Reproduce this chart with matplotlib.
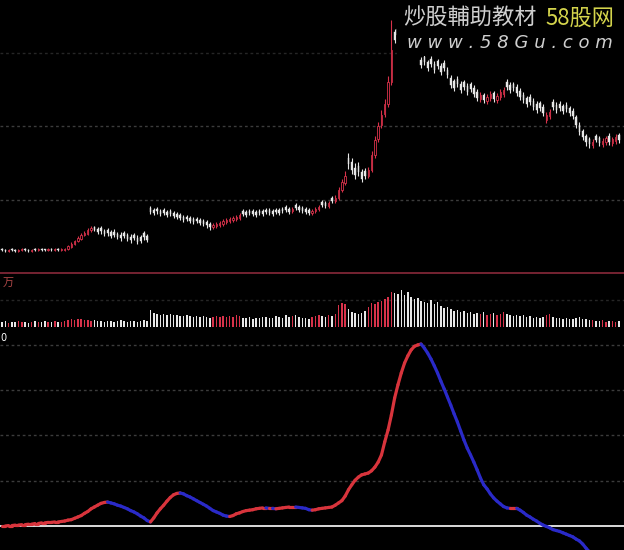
import numpy as np
import matplotlib
matplotlib.use("Agg")
import matplotlib.pyplot as plt
from matplotlib.patches import Rectangle

plt.rcParams['font.family'] = ['Noto Sans CJK SC', 'DejaVu Sans']

# price data (one entry per trading day)
opens = [
    5.1, 5.0, 4.9, 5.1, 5.0, 4.9, 5.0, 5.1, 5.0, 4.9, 5.1, 5.0, 5.1, 5.0, 5.0, 5.1, 5.0, 5.1, 5.0, 5.0,
    5.1, 5.3, 5.6, 5.9, 6.1,
    6.5, 6.6, 7.0, 7.3,
    7.1, 7.2, 6.9, 7.0, 6.8, 6.8, 6.6, 6.5, 6.7, 6.5, 6.3, 6.5, 6.2, 6.3, 6.7,
    6.4,
    9.2,
    9.0, 9.1, 8.9, 9.0, 8.8, 8.9, 8.7,
    8.6, 8.5, 8.3, 8.3, 8.2, 8.1, 8.1, 8.0, 7.9, 7.8, 7.6,
    7.3, 7.4, 7.5, 7.6, 7.8, 7.9, 8.0, 8.1, 8.2,
    8.9, 8.8, 8.9, 8.9, 8.8, 8.9, 8.9, 9.0, 9.0, 8.9, 9.0, 9.0, 9.1, 9.3, 9.1, 8.9, 9.5, 9.3,
    9.2, 9.1, 9.0, 8.7, 8.9,
    9.1, 9.8, 9.7, 9.4, 10.2, 9.9,
    10.2, 11.0, 11.7,
    14.2, 13.8, 13.2, 13.4,
    12.8, 12.9, 12.4,
    13.0, 14.5, 16.1, 17.5,
    18.6, 19.6, 21.8,
    26.8, 27.1, 26.4, 26.0, 26.4, 25.8, 26.0, 25.6,
    24.0, 24.3, 23.8, 24.1, 23.6, 23.9, 23.4, 23.7, 23.0,
    22.2, 21.9, 22.1, 21.6, 21.8, 21.4, 21.6, 21.2,
    20.8, 20.1, 20.5, 19.9, 20.2, 20.7, 20.0, 20.3, 20.6,
    21.8, 21.5, 21.6, 21.3,
    20.9, 20.5, 20.2, 20.3, 19.9, 19.6, 19.7, 19.3,
    18.0, 18.4,
    19.8, 19.5, 19.6, 19.4, 19.5, 19.2, 18.9,
    18.3, 17.5, 16.9, 16.4, 16.1,
    15.5, 16.4, 16.2, 15.6, 15.8, 16.4, 15.7, 15.9, 16.5,
]
closes = [
    5.0, 4.9, 5.0, 5.0, 4.9, 5.0, 5.1, 5.0, 4.9, 5.0, 5.0, 5.1, 5.0, 5.0, 5.1, 5.0, 5.1, 5.0, 5.1, 5.1,
    5.4, 5.6, 5.9, 6.2, 6.5,
    6.7, 7.0, 7.2, 7.0,
    6.8, 6.9, 6.6, 6.7, 6.4, 6.5, 6.3, 6.2, 6.4, 6.1, 6.0, 6.2, 5.8, 5.9, 6.3,
    6.0,
    8.8,
    8.7, 8.9, 8.6, 8.7, 8.5, 8.6, 8.4,
    8.3, 8.2, 8.0, 8.1, 7.9, 7.8, 7.9, 7.7, 7.6, 7.5, 7.3,
    7.5, 7.6, 7.7, 7.9, 8.0, 8.1, 8.2, 8.3, 8.5,
    8.6, 8.5, 8.7, 8.6, 8.5, 8.7, 8.6, 8.8, 8.7, 8.6, 8.8, 8.7, 8.9, 9.0, 8.8, 9.1, 9.2, 9.0,
    8.9, 8.8, 8.7, 8.9, 9.1,
    9.3, 9.5, 9.4, 9.7, 9.9, 10.2,
    11.0, 11.8, 12.4,
    13.6, 13.0, 12.5, 12.8,
    12.1, 12.4, 13.0,
    14.5, 16.0, 17.4, 18.5,
    19.6, 21.8, 25.0,
    26.0, 26.5, 25.8, 25.4, 25.9, 25.2, 25.5, 25.0,
    23.5, 23.8, 23.2, 23.6, 23.0, 23.4, 22.8, 23.2, 22.5,
    21.5, 21.2, 21.6, 21.0, 21.3, 20.8, 21.1, 20.6,
    20.2, 20.5, 20.0, 20.3, 20.6, 20.1, 20.4, 20.8, 21.0,
    21.3, 21.0, 21.2, 20.7,
    20.3, 20.0, 19.6, 19.8, 19.3, 19.0, 19.2, 18.7,
    18.5, 18.8,
    19.3, 19.0, 19.2, 18.9, 19.1, 18.7, 18.4,
    17.5, 16.8, 16.3, 15.8, 15.6,
    15.8, 16.0, 15.7, 15.9, 16.2, 15.8, 16.1, 16.3, 16.0,
]
highs = [
    5.2, 5.1, 5.1, 5.2, 5.1, 5.1, 5.2, 5.2, 5.1, 5.1, 5.2, 5.2, 5.2, 5.1, 5.2, 5.2, 5.2, 5.2, 5.2, 5.2,
    5.5, 5.8, 6.0, 6.4, 6.7,
    6.9, 7.2, 7.4, 7.4,
    7.3, 7.4, 7.1, 7.2, 7.0, 7.1, 6.8, 6.8, 6.9, 6.7, 6.6, 6.7, 6.5, 6.5, 6.9,
    6.6,
    9.4,
    9.2, 9.3, 9.1, 9.2, 9.0, 9.1, 8.9,
    8.8, 8.7, 8.5, 8.5, 8.4, 8.3, 8.3, 8.2, 8.1, 8.0, 7.8,
    7.7, 7.8, 7.9, 8.1, 8.2, 8.3, 8.4, 8.5, 8.7,
    9.1, 9.0, 9.1, 9.1, 9.0, 9.1, 9.1, 9.2, 9.2, 9.1, 9.2, 9.2, 9.3, 9.5, 9.3, 9.3, 9.7, 9.5,
    9.4, 9.3, 9.2, 9.1, 9.3,
    9.5, 10.0, 9.9, 9.9, 10.4, 10.5,
    11.3, 12.1, 12.9,
    14.7, 14.2, 13.7, 13.8,
    13.1, 13.2, 13.3,
    14.9, 16.4, 17.8, 19.0,
    20.1, 22.4, 28.0,
    27.1, 27.4, 26.7, 26.3, 26.7, 26.1, 26.3, 25.9,
    24.3, 24.6, 24.0, 24.4, 23.9, 24.1, 23.7, 24.0, 23.3,
    22.5, 22.1, 22.4, 21.9, 22.0, 21.7, 21.8, 21.5,
    21.1, 20.8, 20.7, 20.6, 20.9, 20.9, 20.7, 21.1, 21.3,
    22.1, 21.8, 21.8, 21.6,
    21.2, 20.8, 20.4, 20.6, 20.2, 19.9, 19.9, 19.6,
    18.8, 19.1,
    20.1, 19.8, 19.9, 19.6, 19.8, 19.4, 19.2,
    18.5, 17.8, 17.1, 16.6, 16.3,
    16.1, 16.6, 16.4, 16.2, 16.4, 16.7, 16.3, 16.6, 16.7,
]
lows = [
    4.9, 4.8, 4.8, 4.9, 4.8, 4.8, 4.9, 4.9, 4.8, 4.8, 4.9, 4.9, 4.9, 4.9, 4.9, 4.9, 4.9, 4.9, 4.9, 4.9,
    5.0, 5.2, 5.5, 5.8, 6.0,
    6.4, 6.5, 6.8, 6.9,
    6.6, 6.6, 6.4, 6.4, 6.2, 6.3, 6.1, 5.9, 6.2, 5.9, 5.7, 6.0, 5.6, 5.7, 6.0,
    5.8,
    8.6,
    8.5, 8.6, 8.4, 8.5, 8.3, 8.4, 8.2,
    8.1, 8.0, 7.8, 7.9, 7.7, 7.6, 7.7, 7.5, 7.4, 7.2, 7.0,
    7.1, 7.2, 7.3, 7.4, 7.6, 7.7, 7.8, 7.9, 8.0,
    8.4, 8.3, 8.5, 8.4, 8.3, 8.5, 8.4, 8.6, 8.5, 8.4, 8.6, 8.5, 8.7, 8.8, 8.6, 8.7, 9.0, 8.8,
    8.7, 8.6, 8.5, 8.5, 8.7,
    8.9, 9.3, 9.2, 9.2, 9.7, 9.7,
    10.0, 10.8, 11.5,
    13.1, 12.6, 12.1, 12.4,
    11.8, 12.1, 12.2,
    12.8, 14.2, 15.8, 17.2,
    18.3, 19.3, 21.5,
    25.7, 26.2, 25.5, 25.1, 25.6, 24.9, 25.2, 24.7,
    23.2, 23.5, 22.9, 23.3, 22.7, 23.1, 22.5, 22.9, 22.2,
    21.2, 20.9, 21.3, 20.7, 21.0, 20.5, 20.8, 20.3,
    19.9, 19.8, 19.7, 19.6, 19.9, 19.8, 19.7, 20.0, 20.3,
    21.0, 20.7, 20.9, 20.4,
    20.0, 19.7, 19.3, 19.5, 19.0, 18.7, 18.9, 18.4,
    17.7, 18.1,
    19.0, 18.7, 18.9, 18.6, 18.8, 18.4, 18.1,
    17.2, 16.5, 16.0, 15.4, 15.2,
    15.2, 15.8, 15.4, 15.3, 15.5, 15.5, 15.4, 15.6, 15.7,
]
# volume in 万 shares
volumes = [
    50, 60, 45, 55, 50, 60, 55, 50, 45, 55, 60, 50, 55, 60, 50, 55, 60, 50, 55, 60,
    70, 80, 75, 85, 80,
    75, 70, 65, 70,
    60, 65, 55, 60, 65, 55, 60, 70, 60, 55, 65, 60, 55, 60, 70, 65,
    170,
    140, 130, 120, 135, 125, 130, 120,
    120, 115, 110, 125, 110, 100, 115, 105, 110, 100, 95,
    105, 110, 100, 115, 105, 110, 100, 120, 110,
    95, 90, 100, 85, 95, 90, 100, 105, 90, 95, 110, 100, 95, 120, 105, 110, 125, 100,
    95, 90, 85, 100, 110,
    120, 110, 100, 125, 115, 130,
    220, 240, 230,
    180, 150, 140, 130,
    140, 160, 200,
    240, 230, 250, 260,
    280, 300, 350,
    340, 330, 370, 320, 350, 300, 280, 290,
    260, 250, 240, 270, 230, 250, 210, 190, 200,
    180, 160, 170, 150, 160, 140, 150, 130,
    140, 130, 150, 120, 130, 140, 120, 130, 150,
    130, 120, 110, 120,
    110, 120, 100, 110, 90, 100, 95, 105,
    120, 130,
    100, 90, 95, 85, 90, 80, 85,
    90, 100, 85, 80, 75,
    70, 65, 60, 70, 55, 65, 60, 55, 65,
]
# indicator line
indicator = [
    0.0, 0.0, 0.1, 0.1, 0.2, 0.2, 0.3, 0.3, 0.4, 0.4, 0.55, 0.55, 0.7, 0.7, 0.8, 0.8, 0.9, 0.9, 1.0, 1.1,
    1.3, 1.4, 1.7, 2.0, 2.3, 2.8, 3.2, 3.8, 4.2, 4.6, 5.0, 5.2, 5.3, 5.1, 4.9, 4.6, 4.4, 4.1, 3.8, 3.4,
    3.1, 2.7, 2.2, 1.8, 1.2, 0.9, 1.8, 2.9, 3.8, 4.6, 5.5, 6.3, 6.9, 7.2, 7.3, 7.1, 6.7, 6.4, 6.0, 5.6,
    5.2, 4.8, 4.4, 3.9, 3.4, 3.1, 2.8, 2.4, 2.2, 2.1, 2.3, 2.7, 2.9, 3.2, 3.4, 3.5, 3.6, 3.8, 3.9, 4.0,
    4.0, 3.9, 3.9, 3.8, 3.9, 4.0, 4.1, 4.2, 4.2, 4.2, 4.1, 4.0, 3.9, 3.6, 3.5, 3.6, 3.8, 3.9, 4.0, 4.1,
    4.2, 4.6, 5.1, 5.6, 6.6, 8.0, 9.1, 10.1, 10.8, 11.3, 11.5, 11.7, 12.2, 13.0, 14.1, 15.7, 18.6, 21.2, 24.5, 28.3,
    31.2, 33.8, 36.0, 37.6, 38.9, 39.7, 40.0, 40.2, 39.3, 38.2, 36.9, 35.4, 33.8, 32.0, 30.3, 28.5, 26.7, 24.8, 23.0, 21.0,
    19.0, 17.2, 15.7, 14.1, 12.4, 10.6, 9.1, 8.2, 7.1, 6.2, 5.5, 4.9, 4.3, 4.0, 3.9, 3.9, 3.9, 3.5, 3.0, 2.4,
    2.0, 1.5, 1.1, 0.6, 0.2, -0.1, -0.4, -0.8, -1.0, -1.2, -1.5, -1.8, -2.1, -2.4, -2.9, -3.3, -4.0, -4.9, -5.7, -6.6,
    -7.3, -8.0, -8.4, -8.8, -9.1, -9.3, -9.3, -9.3,
]

o = np.array(opens)
c = np.array(closes)
h = np.array(highs)
l = np.array(lows)
v = np.array(volumes)
ind = np.array(indicator)
idx = np.arange(len(c))
up = c > o

RED = '#d8324a'
WHITE = '#e6e6e6'
GRID = '#3c3c3c'
BG = 'black'

fig = plt.figure(figsize=(6.24, 5.5), dpi=100, facecolor=BG)
W, H = 624, 550


def px_axes(top, bottom):
    return fig.add_axes([0, (H - bottom) / H, 1, (bottom - top) / H], facecolor=BG)


ax1 = px_axes(0, 272)
ax2 = px_axes(273, 330)
ax3 = px_axes(330, 550)

for ax in (ax1, ax2, ax3):
    ax.set_xlim(-0.6, 188.5)
    ax.set_xticks([])
    ax.set_yticks([])
    for s in ax.spines.values():
        s.set_visible(False)

# --- price panel ---
ax1.set_ylim(2.8, 30)
ax1.axhline(24.7, color='#262626', lw=1, ls=(0, (2, 2)), zorder=0)
for g in (17.4, 10.0):
    ax1.axhline(g, color=GRID, lw=1, ls=(0, (2, 2)), zorder=0)
cols = np.where(up, RED, WHITE)
ax1.vlines(idx, l, h, colors=cols, lw=0.8, zorder=2)
body_lo = np.minimum(o, c)
body_h = np.maximum(np.abs(c - o), 0.08)
ax1.bar(idx[~up], body_h[~up], bottom=body_lo[~up], width=0.42,
        color=WHITE, edgecolor=WHITE, lw=0.3, zorder=3)
ax1.bar(idx[up], body_h[up], bottom=body_lo[up], width=0.42,
        color=BG, edgecolor=RED, lw=0.6, zorder=3)

# --- volume panel ---
ax2.set_ylim(-30, 540)
ax2.axhline(270, color='#262626', lw=1, ls=(0, (2, 2)), zorder=0)
ax2.bar(idx, v, width=0.45, color=np.where(up, RED, WHITE), lw=0, zorder=2)
ax2.text(0.004, 0.82, '万', transform=ax2.transAxes, color='#b04848',
         fontsize=8, ha='left', va='center')

# separator line
fig.add_artist(plt.Line2D([0, 1], [(H - 273) / H] * 2, color='#8a2a3a', lw=1.2))

# --- indicator panel ---
ax3.set_ylim(-5.3, 43.3)
for g in (10, 20, 30, 40):
    ax3.axhline(g, color=GRID, lw=1, ls=(0, (2, 2)), zorder=0)
ax3.axhline(0, color='white', lw=1.2, zorder=1)
for i in range(1, len(ind)):
    colr = '#d8343c' if ind[i] >= ind[i - 1] else '#2a2ac8'
    ax3.plot(idx[i - 1:i + 1], ind[i - 1:i + 1], color=colr, lw=2.3,
             solid_capstyle='round', zorder=3)
ax3.text(0.0, 0.985, '0', transform=ax3.transAxes, color='white',
         fontsize=7, ha='left', va='top', family='DejaVu Sans')

# watermark on its own black patch
fig.add_artist(Rectangle((397 / W, 1 - 56 / H), (W - 397) / W, 56 / H,
                         transform=fig.transFigure, facecolor=BG,
                         edgecolor='none', zorder=5))
fig.text(403 / W, 1 - 18 / H, '炒股輔助教材', color='#cfcfcf', fontsize=16,
         ha='left', va='center', style='italic', zorder=6)
fig.text(545 / W, 1 - 18 / H, '58股网', color='#d4d44c', fontsize=16,
         ha='left', va='center', style='italic', zorder=6)
fig.text(407 / W, 1 - 43 / H, 'w w w . 5 8 G u . c o m', color='#cfcfcf',
         fontsize=13, ha='left', va='center', style='italic',
         family='DejaVu Sans', zorder=6)

fig.savefig('out.png', dpi=100, facecolor=BG)
